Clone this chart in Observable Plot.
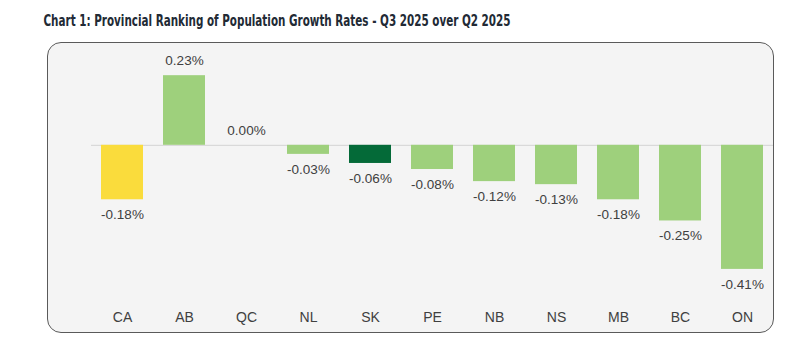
<!DOCTYPE html>
<html>
<head>
<meta charset="utf-8">
<script src="https://cdn.jsdelivr.net/npm/d3@7"></script>
<script src="https://cdn.jsdelivr.net/npm/@observablehq/plot@0.6"></script>
<style>
  html, body { margin: 0; padding: 0; background: #ffffff; }
  #wrap { position: relative; width: 804px; height: 350px; overflow: hidden; }
  #box { position: absolute; left: 47px; top: 42px; width: 725px; height: 289px;
         border: 1.3px solid #5a5a5a; border-radius: 14px; background: #f4f4f4; }
  #title { position: absolute; left: 0; top: 0; }
  #chart { position: absolute; left: 0; top: 0; }
</style>
</head>
<body>
<div id="wrap">
  <div id="box"></div>
  <svg id="title" width="804" height="40">
    <text x="43.5" y="26" textLength="467" lengthAdjust="spacingAndGlyphs"
      style="font-family: 'Liberation Sans Narrow','DejaVu Sans Condensed',Roboto,sans-serif; font-weight: bold; font-size: 15px; fill: #222a35;">Chart 1: Provincial Ranking of Population Growth Rates - Q3 2025 over Q2 2025</text>
  </svg>
  <div id="chart"></div>
</div>
<script>
const provinces = ["CA", "AB", "QC", "NL", "SK", "PE", "NB", "NS", "MB", "BC", "ON"];
const growth = [-0.18, 0.23, 0.00, -0.03, -0.06, -0.08, -0.12, -0.13, -0.18, -0.25, -0.41];
const barColors = ["#FADC3C", "#9ED07C", "#9ED07C", "#9ED07C", "#046A38", "#9ED07C", "#9ED07C", "#9ED07C", "#9ED07C", "#9ED07C", "#9ED07C"];

const data = provinces.map((p, i) => ({prov: p, value: growth[i], color: barColors[i]}));

const chart = Plot.plot({
  width: 804,
  height: 350,
  marginLeft: 91,
  marginRight: 31,
  marginTop: 54,
  marginBottom: 69,
  style: {background: "transparent", fontFamily: "'Liberation Sans', Arial, sans-serif", color: "#404040"},
  x: {domain: provinces, paddingInner: 0.32, paddingOuter: 0.16, label: null},
  y: {domain: [-0.45, 0.3], axis: null},
  marks: [
    Plot.ruleY([0], {stroke: "#d9d9d9", strokeWidth: 1.2}),
    Plot.barY(data, {x: "prov", y: "value", fill: "color"}),
    Plot.text(data.filter(d => d.value >= 0), {x: "prov", y: "value", text: d => d.value.toFixed(2) + "%", dy: -15, fontSize: 13.5, fill: "#404040"}),
    Plot.text(data.filter(d => d.value < 0), {x: "prov", y: "value", text: d => d.value.toFixed(2) + "%", dy: 15, fontSize: 13.5, fill: "#404040"}),
    Plot.axisX({tickSize: 0, tickPadding: 31, fontSize: 14, label: null, fill: "#404040"})
  ]
});
document.getElementById("chart").appendChild(chart);
</script>
</body>
</html>
